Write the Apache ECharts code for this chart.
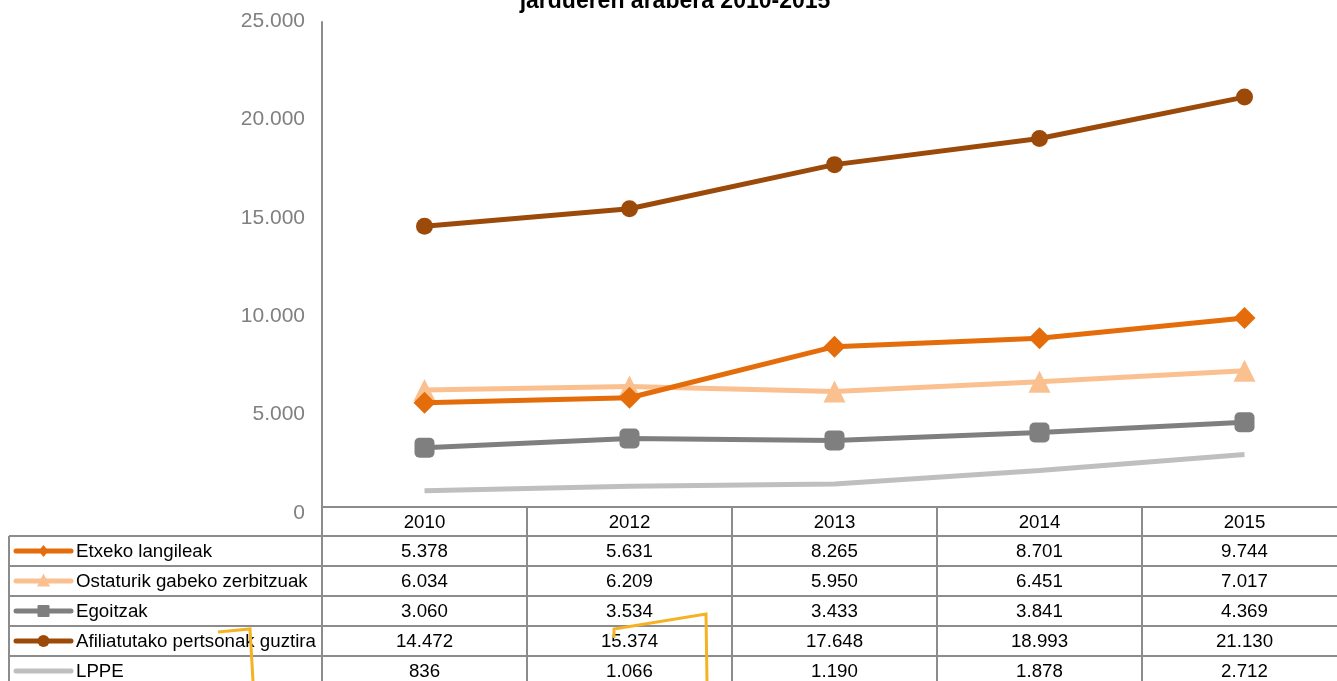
<!DOCTYPE html>
<html>
<head>
<meta charset="utf-8">
<script src="https://cdn.jsdelivr.net/npm/echarts@6/dist/echarts.min.js"></script>
<style>
html,body{margin:0;padding:0;background:#fff;overflow:hidden;}
#chart{width:1347px;height:681px;}
</style>
</head>
<body>
<div id="chart"></div>
<script>
var titleText = 'jardueren arabera 2010-2015';
var years = ['2010', '2012', '2013', '2014', '2015'];
var seriesNames = ['Etxeko langileak', 'Ostaturik gabeko zerbitzuak', 'Egoitzak', 'Afiliatutako pertsonak guztira', 'LPPE'];
var etxeko = [5378, 5631, 8265, 8701, 9744];
var ostaturik = [6034, 6209, 5950, 6451, 7017];
var egoitzak = [3060, 3534, 3433, 3841, 4369];
var afiliatutako = [14472, 15374, 17648, 18993, 21130];
var lppe = [836, 1066, 1190, 1878, 2712];
var yTicks = [0, 5000, 10000, 15000, 20000, 25000];

var allData = [etxeko, ostaturik, egoitzak, afiliatutako, lppe];
var colors = ['#E46C0A', '#FAC090', '#7F7F7F', '#9C4A0A', '#BFBFBF'];
var symbols = ['diamond', 'triangle', 'roundRect', 'circle', 'none'];
var symbolSizes = [22, 22, 20, 17, 0];
var legendSymbolSizes = [12, 13, 12, 12, 0];

function fmt(v) {
  var s = String(Math.round(v));
  return s.replace(/\B(?=(\d{3})+(?!\d))/g, '.');
}

var chart = echarts.init(document.getElementById('chart'));

var series = seriesNames.map(function (name, i) {
  return {
    name: name,
    type: 'line',
    data: allData[i],
    symbol: symbols[i],
    symbolSize: symbolSizes[i],
    showSymbol: symbols[i] !== 'none',
    lineStyle: { color: colors[i], width: 5 },
    itemStyle: { color: colors[i] },
    z: 10 - i
  };
});

var gridLeft = 322, gridTop = 22, gridBottomY = 507, colW = 205;
var FONT = '"Liberation Sans", Arial, sans-serif';
var TFONT = '18.7px ' + FONT;

var option = {
  animation: false,
  textStyle: { fontFamily: FONT },
  grid: [
    { left: gridLeft, top: gridTop, width: colW * years.length, height: gridBottomY - gridTop, containLabel: false },
    { left: gridLeft, top: 21, width: colW * years.length, height: 492, containLabel: false }
  ],
  xAxis: [{
    type: 'category',
    data: years,
    boundaryGap: true,
    axisLine: { show: true, lineStyle: { color: '#8C8C8C', width: 2 } },
    axisTick: { show: false },
    axisLabel: { show: false },
    splitLine: { show: false }
  }, {
    type: 'category', gridIndex: 1, data: years, show: false
  }],
  yAxis: [{
    type: 'value',
    min: yTicks[0],
    max: yTicks[yTicks.length - 1],
    interval: yTicks[1] - yTicks[0],
    axisLine: { show: true, lineStyle: { color: '#8C8C8C', width: 2 } },
    axisTick: { show: false },
    splitLine: { show: false },
    axisLabel: { show: false }
  }, {
    type: 'value',
    gridIndex: 1,
    min: yTicks[0],
    max: yTicks[yTicks.length - 1],
    interval: yTicks[1] - yTicks[0],
    axisLine: { show: false },
    axisTick: { show: false },
    splitLine: { show: false },
    axisLabel: { color: '#808080', fontSize: 21, margin: 17, formatter: function (v) { return fmt(v); } }
  }],
  series: series
};
chart.setOption(option);

var g = [];
var lineColor = '#8C8C8C';
var rowTop = 536, rowH = 30, rows = seriesNames.length;
var tableBottom = 681;
var rightX = gridLeft + colW * years.length;
for (var r = 0; r < rows; r++) {
  var yy = rowTop + r * rowH;
  g.push({ type: 'line', shape: { x1: 9, y1: yy, x2: rightX, y2: yy }, style: { stroke: lineColor, lineWidth: 2 }, z: 1 });
}
g.push({ type: 'line', shape: { x1: 9, y1: rowTop, x2: 9, y2: tableBottom }, style: { stroke: lineColor, lineWidth: 2 }, z: 1 });
for (var c = 0; c <= years.length; c++) {
  var xx = gridLeft + c * colW;
  g.push({ type: 'line', shape: { x1: xx, y1: gridBottomY, x2: xx, y2: tableBottom }, style: { stroke: lineColor, lineWidth: 2 }, z: 1 });
}
years.forEach(function (yr, ci) {
  var cx = chart.convertToPixel({ xAxisIndex: 0 }, yr);
  g.push({ type: 'text', x: cx, y: (gridBottomY + rowTop) / 2 + 1, style: { text: yr, fill: '#000', font: TFONT, align: 'center', verticalAlign: 'middle' }, z: 5 });
  allData.forEach(function (arr, ri) {
    g.push({ type: 'text', x: cx, y: rowTop + ri * rowH + rowH / 2 + 1, style: { text: fmt(arr[ci]), fill: '#000', font: TFONT, align: 'center', verticalAlign: 'middle' }, z: 5 });
  });
});
seriesNames.forEach(function (name, i) {
  var cy = rowTop + i * rowH + rowH / 2;
  var mx = 43.5;
  g.push({ type: 'line', shape: { x1: 16, y1: cy, x2: 71, y2: cy }, style: { stroke: colors[i], lineWidth: 5, lineCap: 'round' }, z: 5 });
  var s = legendSymbolSizes[i], h = s / 2;
  if (symbols[i] === 'diamond') {
    g.push({ type: 'polygon', shape: { points: [[mx, cy - h], [mx + h * 0.8, cy], [mx, cy + h], [mx - h * 0.8, cy]] }, style: { fill: colors[i] }, z: 6 });
  } else if (symbols[i] === 'triangle') {
    g.push({ type: 'polygon', shape: { points: [[mx, cy - h - 1], [mx + h, cy + h - 1], [mx - h, cy + h - 1]] }, style: { fill: colors[i] }, z: 6 });
  } else if (symbols[i] === 'roundRect') {
    g.push({ type: 'rect', shape: { x: mx - h, y: cy - h, width: s, height: s, r: 1 }, style: { fill: colors[i] }, z: 6 });
  } else if (symbols[i] === 'circle') {
    g.push({ type: 'circle', shape: { cx: mx, cy: cy, r: h }, style: { fill: colors[i] }, z: 6 });
  }
  g.push({ type: 'text', x: 76, y: cy + 1, style: { text: name, fill: '#000', font: TFONT, align: 'left', verticalAlign: 'middle' }, z: 5 });
});
g.push({ type: 'text', x: 675, y: 2, style: { text: titleText, fill: '#000', font: 'bold 23px ' + FONT, align: 'center', verticalAlign: 'middle' }, z: 5 });
g.push({ type: 'polyline', shape: { points: [[218, 632], [250, 629], [253, 681]] }, style: { stroke: '#F5B324', lineWidth: 3, fill: null }, z: 20 });
g.push({ type: 'polyline', shape: { points: [[614, 638], [614, 629], [706, 614], [707, 681]] }, style: { stroke: '#F5B324', lineWidth: 3, fill: null }, z: 20 });

chart.setOption({ graphic: g });
</script>
</body>
</html>
